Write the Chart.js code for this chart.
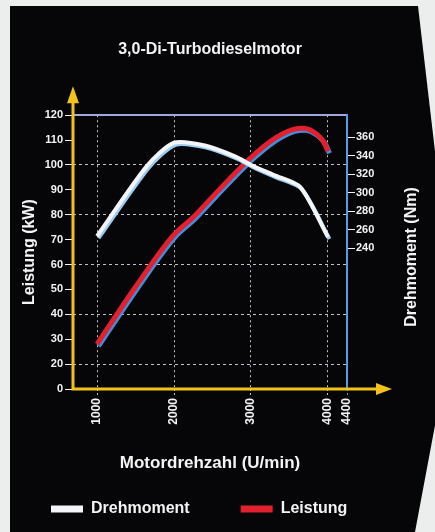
<!DOCTYPE html>
<html>
<head>
<meta charset="utf-8">
<script src="https://cdn.jsdelivr.net/npm/chart.js@4"></script>
<style>
  html, body { margin: 0; padding: 0; background: #eceeed; }
  #card {
    position: absolute; left: 0; top: 0; width: 435px; height: 532px;
    background: #060609;
    clip-path: polygon(10px 6px, 418px 6px, 436px 160px, 436px 420px, 415px 532px, 10px 532px);
  }
  #chart { position: absolute; left: 0; top: 0; }
</style>
</head>
<body>
<div id="card"></div>
<canvas id="chart" width="435" height="532"></canvas>
<script>
// Drehmoment (Nm, rechte Achse)
const rpmTorque = [1000, 1650, 2000, 2400, 2800, 3000, 3300, 3640, 4000];
const torqueNm  = [253, 329, 354, 351, 339, 330, 319, 306, 252];

// Leistung (kW, linke Achse)
const rpmPower = [1000, 1500, 2000, 2250, 2600, 3000, 3300, 3550, 3680, 3850, 3950, 4000];
const powerKw  = [28, 51, 72, 79, 90.5, 103, 110.5, 114.3, 114.8, 112.5, 109, 105.5];

// Achsbeschriftungen (im Original gestaucht: "0" sitzt auf 10, "4400" auf dem rechten Rand)
const xTickValues = [1000, 2000, 3000, 4000, 4247];
const xTickLabels = ['1000', '2000', '3000', '4000', '4400'];
const yTickValues = [10, 20, 30, 40, 50, 60, 70, 80, 90, 100, 110, 120];
const yTickLabels = ['0', '20', '30', '40', '50', '60', '70', '80', '90', '100', '110', '120'];
const nmTickValues = [240, 260, 280, 300, 320, 340, 360];

const chartTitle = '3,0-Di-Turbodieselmotor';
const xTitle = 'Motordrehzahl (U/min)';
const yTitle = 'Leistung (kW)';
const nmTitle = 'Drehmoment (Nm)';

const FONT = "'Liberation Sans', Arial, sans-serif";
const textColor = '#f4f4f4';
const gridColor = 'rgba(225,228,235,0.85)';
const axisYellow = '#f2c21b';
const borderBlue = '#4f9fe2';

Chart.defaults.font.family = FONT;
Chart.defaults.color = textColor;

const decor = {
  id: 'decor',
  beforeDatasetDraw(chart, args) {
    const ds = chart.data.datasets[args.index];
    const ctx = chart.ctx;
    ctx.save();
    ctx.shadowColor = ds.shadowColor;
    ctx.shadowOffsetX = 1.5;
    ctx.shadowOffsetY = 2;
    ctx.shadowBlur = 0;
  },
  afterDatasetDraw(chart) {
    chart.ctx.restore();
  },
  afterDraw(chart) {
    const ctx = chart.ctx;
    const a = chart.chartArea;
    ctx.save();
    // gelbe Achsen mit Pfeilen
    ctx.strokeStyle = axisYellow;
    ctx.fillStyle = axisYellow;
    ctx.lineWidth = 3;
    ctx.beginPath();
    ctx.moveTo(a.left, a.bottom + 1.5);
    ctx.lineTo(a.left, a.top - 14);
    ctx.moveTo(a.left - 1.5, a.bottom);
    ctx.lineTo(a.right + 31, a.bottom);
    ctx.stroke();
    ctx.beginPath();
    ctx.moveTo(a.left, a.top - 29);
    ctx.lineTo(a.left - 6, a.top - 12);
    ctx.lineTo(a.left + 6, a.top - 12);
    ctx.closePath();
    ctx.fill();
    ctx.beginPath();
    ctx.moveTo(a.right + 45, a.bottom);
    ctx.lineTo(a.right + 29, a.bottom - 6);
    ctx.lineTo(a.right + 29, a.bottom + 6);
    ctx.closePath();
    ctx.fill();
    // rechter Achsentitel (von unten nach oben lesbar)
    ctx.translate(412, 257);
    ctx.rotate(-Math.PI / 2);
    ctx.font = 'bold 16px ' + FONT;
    ctx.fillStyle = textColor;
    ctx.textAlign = 'center';
    ctx.textBaseline = 'middle';
    ctx.fillText(nmTitle, 0, 0);
    ctx.restore();
  }
};

new Chart(document.getElementById('chart'), {
  type: 'line',
  data: {
    datasets: [
      {
        label: 'Drehmoment',
        data: rpmTorque.map((x, i) => ({ x: x, y: torqueNm[i] })),
        yAxisID: 'yR',
        borderColor: '#f3f5f8',
        backgroundColor: '#f3f5f8',
        borderWidth: 4,
        pointRadius: 0,
        tension: 0.25,
        shadowColor: '#9ccbf2'
      },
      {
        label: 'Leistung',
        data: rpmPower.map((x, i) => ({ x: x, y: powerKw[i] })),
        yAxisID: 'y',
        borderColor: '#e2202e',
        backgroundColor: '#e2202e',
        borderWidth: 5,
        pointRadius: 0,
        cubicInterpolationMode: 'monotone',
        shadowColor: '#3f8fdc'
      }
    ]
  },
  options: {
    responsive: false,
    animation: false,
    devicePixelRatio: 1,
    layout: { padding: { left: 0, right: 0, top: 0, bottom: 5 } },
    plugins: {
      title: {
        display: true,
        text: chartTitle,
        color: textColor,
        fullSize: false,
        font: { size: 16, weight: 'bold' },
        padding: { top: 40, bottom: 56 }
      },
      legend: {
        position: 'bottom',
        align: 'start',
        labels: {
          color: textColor,
          font: { size: 16, weight: 'bold' },
          boxWidth: 32,
          boxHeight: 7,
          padding: 51,
          generateLabels: chart =>
            Chart.defaults.plugins.legend.labels.generateLabels(chart).map(l => ({ ...l, lineWidth: 0 }))
        }
      },
      tooltip: { enabled: false }
    },
    scales: {
      x: {
        type: 'linear',
        min: 688,
        max: 4247,
        afterBuildTicks: s => { s.ticks = xTickValues.map(v => ({ value: v })); },
        afterFit: s => { s.height = 61; },
        ticks: {
          autoSkip: false,
          minRotation: 90,
          maxRotation: 90,
          padding: 3,
          color: textColor,
          font: { size: 12, weight: 'bold' },
          callback: v => xTickLabels[xTickValues.indexOf(v)]
        },
        grid: {
          color: c => (c.tick && c.tick.value === 4247) ? borderBlue : gridColor,
          tickColor: c => (c.tick && c.tick.value === 4247) ? borderBlue : gridColor,
          tickLength: 6,
          tickBorderDash: [2, 2]
        },
        border: { display: false, dash: [2, 3] },
        title: {
          display: true,
          text: xTitle,
          color: textColor,
          font: { size: 17, weight: 'bold' },
          padding: { top: 0, bottom: -24 }
        }
      },
      x2: {
        type: 'linear',
        position: 'top',
        min: 688,
        max: 4247,
        display: true,
        afterFit: s => { s.height = 0; },
        ticks: { display: false },
        grid: { display: false },
        border: { display: true, color: '#a3a8de', width: 2 }
      },
      y: {
        type: 'linear',
        position: 'left',
        min: 10,
        max: 120,
        afterBuildTicks: s => { s.ticks = yTickValues.map(v => ({ value: v })); },
        afterFit: s => { s.width = 73; },
        ticks: {
          padding: 2,
          color: textColor,
          font: { size: 11, weight: 'bold' },
          callback: v => yTickLabels[yTickValues.indexOf(v)]
        },
        grid: {
          color: c => (c.tick && c.tick.value % 20 === 0 && c.tick.value < 120) ? gridColor : 'transparent',
          tickColor: textColor,
          tickLength: 8
        },
        border: { display: false, dash: [3, 3] },
        title: {
          display: true,
          text: yTitle,
          color: textColor,
          font: { size: 16, weight: 'bold' },
          padding: { top: 20, bottom: 0 }
        }
      },
      yR: {
        type: 'linear',
        position: 'right',
        min: 87.6,
        max: 383.8,
        afterBuildTicks: s => { s.ticks = nmTickValues.map(v => ({ value: v })); },
        afterFit: s => { s.width = 88; },
        ticks: {
          padding: 1,
          color: textColor,
          font: { size: 11, weight: 'bold' }
        },
        grid: {
          drawOnChartArea: false,
          tickColor: textColor,
          tickLength: 8
        },
        border: { display: true, color: borderBlue, width: 2 }
      }
    }
  },
  plugins: [decor]
});
</script>
</body>
</html>
